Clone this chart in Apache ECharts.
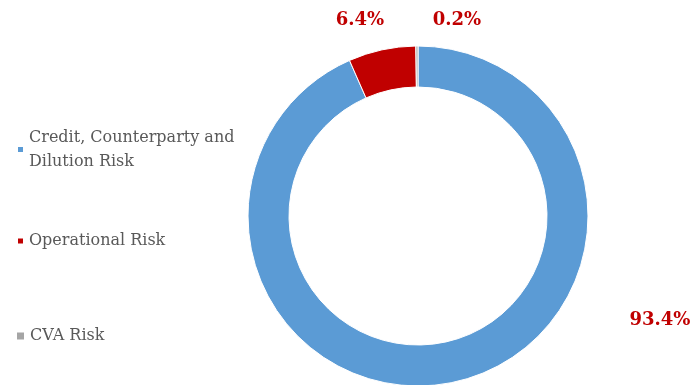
<!DOCTYPE html>
<html>
<head>
<meta charset="utf-8">
<script src="https://cdn.jsdelivr.net/npm/echarts@6/dist/echarts.min.js"></script>
<style>html,body{margin:0;padding:0;background:#fff;}#c{width:692px;height:385px;}</style>
</head>
<body>
<div id="c"></div>
<script>
var categories = ['Credit, Counterparty and\nDilution Risk', 'Operational Risk', 'CVA Risk'];
var values = [93.4, 6.4, 0.2];
var labelTexts = ['93.4%', '6.4%', '0.2%'];
var colors = ['#5b9bd5', '#c00000', '#a5a5a5'];
var labelPos = [[660, 320], [360, 20], [457, 20]];

var chart = echarts.init(document.getElementById('c'), null, {renderer: 'canvas'});
var legendTops = [113.5, 229, 324];
var legendPads = [[24, 0, 0, 0], [0, 0, 0, 0], [0, 0, 0, 0]];
var legends = categories.map(function (name, i) {
  return {
    orient: 'vertical',
    left: i === 2 ? 15 : 16,
    top: legendTops[i],
    padding: 0,
    itemWidth: i === 2 ? 9 : 7,
    itemHeight: i === 2 ? 9 : 7,
    itemGap: 5,
    icon: 'rect',
    selectedMode: false,
    data: [name],
    textStyle: {
      fontFamily: 'DejaVu Serif',
      fontSize: 16,
      lineHeight: 24,
      color: '#595959',
      padding: legendPads[i]
    }
  };
});

chart.setOption({
  animation: false,
  color: colors,
  legend: legends,
  series: [{
    type: 'pie',
    center: [418, 216],
    radius: [129, 170],
    startAngle: 90,
    clockwise: true,
    avoidLabelOverlap: false,
    itemStyle: {borderColor: '#ffffff', borderWidth: 1},
    emphasis: {disabled: true},
    label: {
      show: true,
      position: 'outside',
      formatter: function (p) { return labelTexts[p.dataIndex]; },
      fontFamily: 'DejaVu Serif',
      fontWeight: 'bold',
      fontSize: 18,
      color: '#c00000'
    },
    labelLine: {show: false},
    labelLayout: function (p) {
      var pos = labelPos[p.dataIndex];
      return {x: pos[0], y: pos[1], align: 'center', verticalAlign: 'middle'};
    },
    data: categories.map(function (n, i) { return {name: n, value: values[i]}; })
  }]
});
</script>
</body>
</html>
